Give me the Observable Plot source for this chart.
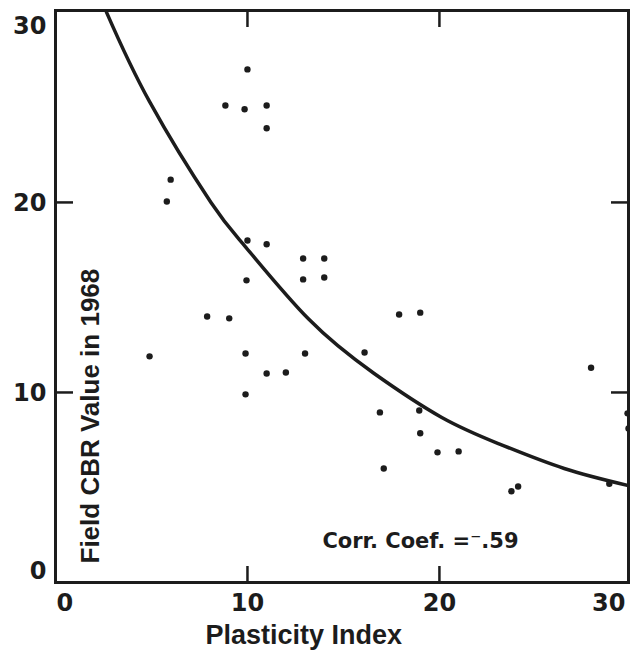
<!DOCTYPE html>
<html><head><meta charset="utf-8">
<script src="https://cdn.jsdelivr.net/npm/d3@7"></script>
<script src="https://cdn.jsdelivr.net/npm/@observablehq/plot@0.6"></script>
<style>html,body{margin:0;padding:0;background:#fff;overflow:hidden}</style>
</head><body><div id="chart"></div>
<script>
// Observed data points (Plasticity Index vs Field CBR in 1968)
const plasticityIndex = [4.9, 6.0, 5.8, 7.9, 9.05, 8.85, 9.85, 11.0, 10.0, 11.0, 10.0, 11.0, 9.95, 9.9, 9.9, 11.0, 12.0, 13.0, 12.9, 12.9, 14.0, 14.0, 17.9, 19.0, 16.1, 16.9, 17.1, 18.95, 19.0, 19.9, 21.0, 23.75, 24.1, 27.9, 28.85, 29.8, 29.85];
const fieldCBR        = [11.9, 21.2, 20.05, 14.0, 13.9, 25.1, 24.9, 25.1, 27.0, 23.9, 18.0, 17.8, 15.9, 12.05, 9.9, 11.0, 11.05, 12.05, 17.05, 15.95, 17.05, 16.05, 14.1, 14.2, 12.1, 8.95, 6.0, 9.05, 7.85, 6.85, 6.9, 4.8, 5.05, 11.3, 5.2, 8.9, 8.1];
// Fitted curve
const curvePI  = [2.66, 4.9, 8.1, 9.95, 13.2, 16.6, 20.1, 23.1, 26.5, 29.85];
const curveCBR = [30.0, 25.3, 20.0, 17.6, 13.85, 11.0, 8.7, 7.3, 6.0, 5.1];
const xTicks = [0, 10, 20, 30];
const yTicks = [0, 10, 20, 30];
const xLabel = "Plasticity Index";
const yLabel = "Field CBR Value in 1968";
const note = "Corr. Coef. =\u207B.59";

const points = plasticityIndex.map((x, i) => ({x, y: fieldCBR[i]}));
const curve = curvePI.map((x, i) => ({x, y: curveCBR[i]}));
const ink = "#1c1c1c";
const tickText = {fontFamily: "DejaVu Sans", fontWeight: "bold", fontSize: 24, fill: ink, tickSize: 0, label: null};
const innerTick = {tickFormat: () => "", stroke: ink, strokeWidth: 2.5, label: null};
const titleFont = {fontFamily: "Liberation Sans", fontWeight: "bold", fill: ink};

const chart = Plot.plot({
  width: 630, height: 653,
  marginLeft: 55, marginRight: 2, marginTop: 10, marginBottom: 71,
  style: {background: "#fff", color: ink},
  x: {domain: [0, 29.85], axis: null},
  y: {domain: [0, 30.1], axis: null},
  marks: [
    Plot.frame({stroke: ink, strokeWidth: 3}),
    // inner ticks on all four sides
    Plot.axisX(xTicks.slice(1, 3), {anchor: "bottom", tickSize: -16, ...innerTick}),
    Plot.axisX(xTicks.slice(1, 3), {anchor: "top", tickSize: -16, ...innerTick}),
    Plot.axisY(yTicks.slice(1, 3), {anchor: "left", tickSize: -18, ...innerTick}),
    Plot.axisY(yTicks.slice(1, 3), {anchor: "right", tickSize: -18, ...innerTick}),
    // tick labels
    Plot.axisX(xTicks.slice(1, 3), {anchor: "bottom", tickPadding: 11, ...tickText}),
    Plot.axisX([xTicks[0]], {anchor: "bottom", tickPadding: 11, textAnchor: "start", dx: 1, ...tickText}),
    Plot.axisX([xTicks[3]], {anchor: "bottom", tickPadding: 11, textAnchor: "end", dx: -6, ...tickText}),
    Plot.axisY(yTicks.slice(1, 3), {anchor: "left", tickPadding: 9, dy: 1, ...tickText}),
    Plot.axisY([yTicks[3]], {anchor: "left", tickPadding: 9, lineAnchor: "top", dy: 5, ...tickText}),
    Plot.axisY([yTicks[0]], {anchor: "left", tickPadding: 9, lineAnchor: "bottom", dy: -4, ...tickText}),
    // fitted curve and points
    Plot.line(curve, {x: "x", y: "y", curve: "natural", stroke: ink, strokeWidth: 3.5, clip: true}),
    Plot.dot(points, {x: "x", y: "y", r: 3.2, fill: ink}),
    // labels
    Plot.text([yLabel], {text: d => d, frameAnchor: "bottom-left", rotate: -90, textAnchor: "start", lineAnchor: "bottom", dx: 43, dy: -19, fontSize: 26, ...titleFont}),
    Plot.text([xLabel], {text: d => d, frameAnchor: "bottom-left", textAnchor: "start", lineAnchor: "bottom", dx: 150, dy: 61, fontSize: 27, ...titleFont}),
    Plot.text([note], {text: d => d, frameAnchor: "bottom-right", textAnchor: "end", lineAnchor: "bottom", dx: -110, dy: -35, fontFamily: "DejaVu Sans", fontWeight: "bold", fontSize: 21, fill: ink})
  ]
});
document.getElementById("chart").appendChild(chart);
</script>
</body></html>
